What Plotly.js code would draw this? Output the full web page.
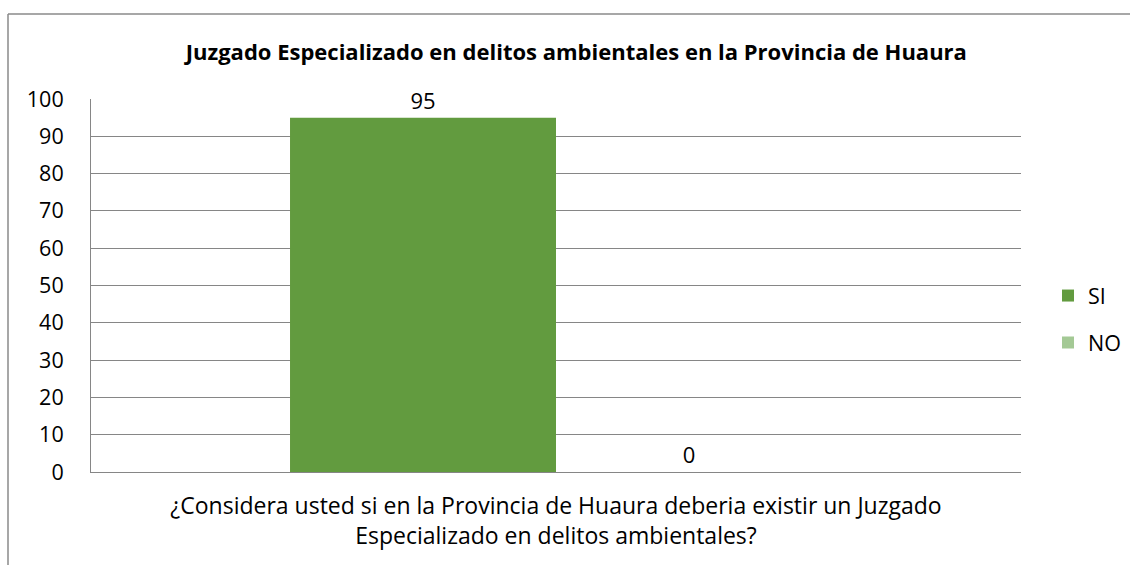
<!DOCTYPE html>
<html>
<head>
<meta charset="utf-8">
<script src="https://cdn.plot.ly/plotly-3.0.1.min.js"></script>
<style>html,body{margin:0;padding:0;background:#fff;}#chart{width:1130px;height:565px;}</style>
</head>
<body>
<div id="chart"></div>
<script>
const chartTitle = "Juzgado Especializado en delitos ambientales en la Provincia de Huaura";
const xTitle = "¿Considera usted si en la Provincia de Huaura deberia existir un Juzgado<br>Especializado en delitos ambientales?";
const categories = ["Pregunta"];
const seriesNames = ["SI", "NO"];
const siValues = [95];
const noValues = [0];
const colors = ["#629b3f", "#a4c995"];
const yTicks = [0,10,20,30,40,50,60,70,80,90,100];

const FONT = "'Open Sans', sans-serif";
const traces = [
  {type:"bar", name:seriesNames[0], x:categories, y:siValues, text:siValues.map(String),
   textposition:"outside", cliponaxis:false, marker:{color:colors[0]}, legendgroup:"a",
   textfont:{size:22,color:"#000"}},
  {type:"bar", name:seriesNames[1], x:categories, y:noValues, text:noValues.map(String),
   textposition:"outside", cliponaxis:false, marker:{color:colors[1]}, legendgroup:"b",
   textfont:{size:22,color:"#000"}}
];
const layout = {
  width:1130, height:565,
  margin:{l:91, r:109, t:99, b:93},
  paper_bgcolor:"#fff", plot_bgcolor:"#fff",
  font:{family:FONT, size:21.5, color:"#000"},
  title:{text:"<b>"+chartTitle+"</b>", x:0.51, xanchor:"center", y:0.908, yanchor:"middle",
         font:{family:FONT, size:22, color:"#000"}},
  barmode:"group", bargap:0.428, bargroupgap:0,
  showlegend:true,
  legend:{xref:"container", x:1048/1130, xanchor:"left", yref:"paper", y:0.41, yanchor:"middle", tracegroupgap:16,
          font:{size:21.5}, bgcolor:"rgba(0,0,0,0)"},
  xaxis:{type:"category", showticklabels:false, ticks:"", showline:true, linecolor:"#868686", linewidth:1,
         showgrid:false, automargin:false,
         title:{text:xTitle, standoff:25, font:{size:23}}},
  yaxis:{range:[0,100], tickvals:yTicks, showgrid:true, gridcolor:"#868686", gridwidth:1,
         showline:true, linecolor:"#868686", linewidth:1, ticks:"", zeroline:false,
         ticklabelstandoff:22, automargin:false, tickfont:{size:21.5}},
  shapes:[
    {type:"line", xref:"paper", yref:"paper", x0:(8-91)/930, x1:(1135-91)/930, y0:(472-14)/373, y1:(472-14)/373,
     line:{color:"#8a8a8a", width:1.5}},
    {type:"line", xref:"paper", yref:"paper", x0:(8-91)/930, x1:(8-91)/930, y0:(472-14)/373, y1:(472-570)/373,
     line:{color:"#8a8a8a", width:1.5}}
  ]
};
Plotly.newPlot("chart", traces, layout, {displayModeBar:false, staticPlot:true});
</script>
</body>
</html>
